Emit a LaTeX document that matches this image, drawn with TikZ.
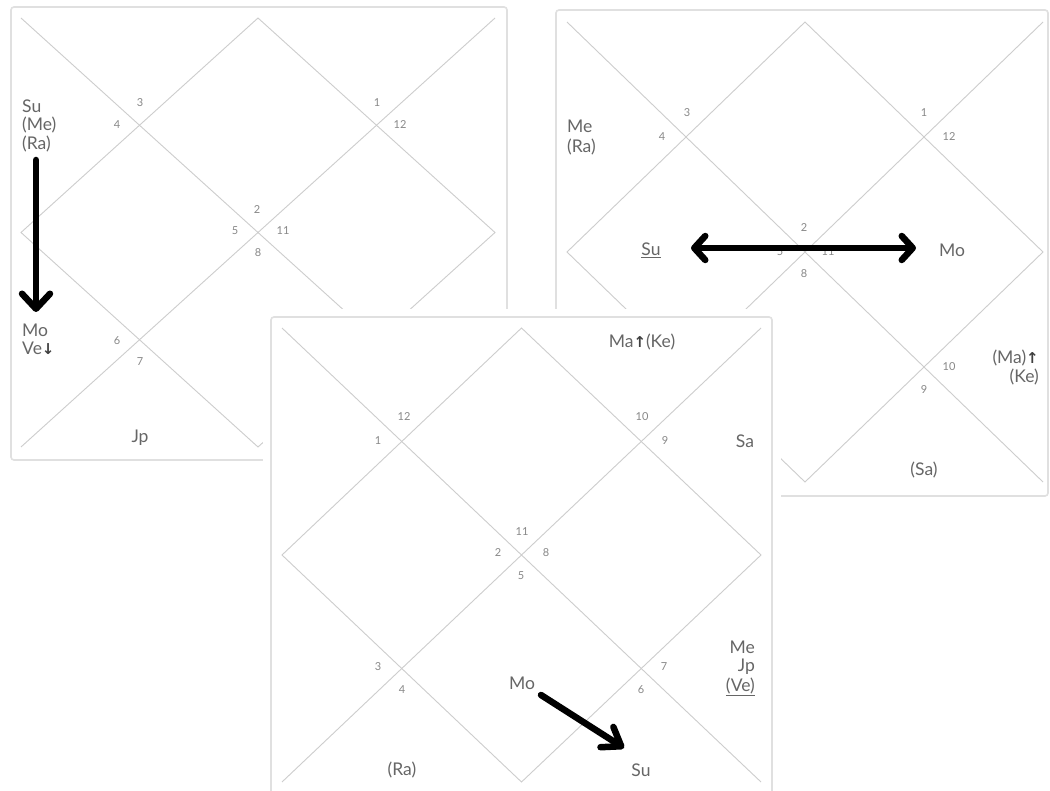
\documentclass[tikz,border=0pt]{standalone}
\usepackage{fontspec}
\setmainfont{Lato}
\newfontfamily\symfont{DejaVu Sans}
\usetikzlibrary{arrows.meta}
\definecolor{chartcol}{HTML}{CDCDCD}
\definecolor{framecol}{HTML}{E0E0E0}
\definecolor{planetcol}{HTML}{666666}
\definecolor{numcol}{HTML}{888888}
\newcommand{\uparr}{{\symfont\bfseries\fontsize{15}{15}\selectfont\color{black!75}↑}}
\newcommand{\downarr}{{\symfont\bfseries\fontsize{15}{15}\selectfont\color{black!75}↓}}
\begin{document}
\begin{tikzpicture}[x=1pt,y=-1pt,
  chartline/.style={draw=chartcol, line width=0.9pt},
  card/.style={draw=framecol, line width=1.6pt, rounded corners=3pt, fill=white},
  planet/.style={text=planetcol, font=\fontsize{17.5}{20}\selectfont, inner sep=0pt},
  num/.style={text=numcol, font=\fontsize{11}{11}\selectfont, inner sep=0pt},
  bigarrow/.style={draw=black, line width=6.5pt, line cap=round}
]
\useasboundingbox (0,0) rectangle (1050,791);
\fill[white] (0,0) rectangle (1050,791);

% ---------------- Chart 1 (top left) ----------------
\draw[card] (11,7) rectangle (507,460);
\draw[chartline] (21,18) -- (495,447) (21,447) -- (495,18);
\draw[chartline] (258,18) -- (495,232.5) -- (258,447) -- (21,232.5) -- cycle;
\node[num] (c1n3) at (140,103) {3};
\node[num] (c1n4) at (117,125) {4};
\node[num] (c1n1) at (377,103) {1};
\node[num] (c1n12) at (400,125) {12};
\node[num] (c1n2) at (257,210) {2};
\node[num] (c1n5) at (235,231) {5};
\node[num] (c1n11) at (283,231) {11};
\node[num] (c1n8) at (258,253) {8};
\node[num] (c1n6) at (117,341) {6};
\node[num] (c1n7) at (140,362) {7};
\node[planet, anchor=west] (c1su) at (22,106) {Su};
\node[planet, anchor=west] (c1me) at (22,125) {(Me)};
\node[planet, anchor=west] (c1ra) at (22,144) {(Ra)};
\node[planet, anchor=west] (c1mo) at (22,330) {Mo};
\node[planet, anchor=west] (c1ve) at (22,348) {Ve\downarr};
\node[planet] (c1jp) at (140,438) {Jp};
\coordinate (c1as) at (36,160);
\coordinate (c1ae) at (36,312);
\draw[bigarrow, -{Straight Barb[round,length=15pt,width=28pt]}] (c1as) -- (c1ae);

% ---------------- Chart 2 (top right) ----------------
\draw[card] (556,10) rectangle (1048,496);
\draw[chartline] (567,22) -- (1043,482) (567,482) -- (1043,22);
\draw[chartline] (805,22) -- (1043,252) -- (805,482) -- (567,252) -- cycle;
\node[num] (c2n3) at (687,113) {3};
\node[num] (c2n4) at (662,137) {4};
\node[num] (c2n1) at (924,113) {1};
\node[num] (c2n12) at (949,137) {12};
\node[num] (c2n2) at (804,228) {2};
\node[num] (c2n5) at (780,252) {5};
\node[num] (c2n11) at (828,252) {11};
\node[num] (c2n8) at (804,274) {8};
\node[num] (c2n10) at (949,367) {10};
\node[num] (c2n9) at (924,390) {9};
\node[planet, anchor=west] (c2me) at (567,126) {Me};
\node[planet, anchor=west] (c2ra) at (567,147) {(Ra)};
\node[planet] (c2su) at (651,250) {\underline{Su}};
\node[planet] (c2mo) at (952,250) {Mo};
\node[planet, anchor=east] (c2ma) at (1039,358) {(Ma)\uparr};
\node[planet, anchor=east] (c2ke) at (1039,377) {(Ke)};
\node[planet] (c2sa) at (924,470) {(Sa)};
\coordinate (c2al) at (691,248);
\coordinate (c2ar) at (916,248);
\draw[bigarrow, {Straight Barb[round,length=11pt,width=24pt]}-{Straight Barb[round,length=11pt,width=24pt]}] (c2al) -- (c2ar);

% ---------------- Chart 3 (bottom, in front) ----------------
\fill[white] (263,309) rectangle (781,795);
\draw[card] (271,317) rectangle (772,800);
\draw[chartline] (282,328) -- (761,782) (282,782) -- (761,328);
\draw[chartline] (521.5,328) -- (761,555) -- (521.5,782) -- (282,555) -- cycle;
\node[num] (c3n12) at (404,417) {12};
\node[num] (c3n1) at (378,441) {1};
\node[num] (c3n10) at (642,417) {10};
\node[num] (c3n9) at (665,441) {9};
\node[num] (c3n11) at (522,532) {11};
\node[num] (c3n2) at (498,553) {2};
\node[num] (c3n8) at (546,553) {8};
\node[num] (c3n5) at (521,576) {5};
\node[num] (c3n3) at (378,667) {3};
\node[num] (c3n4) at (402,690) {4};
\node[num] (c3n7) at (664,667) {7};
\node[num] (c3n6) at (641,690) {6};
\node[planet] (c3ma) at (642,342) {Ma\uparr(Ke)};
\node[planet] (c3sa) at (745,441) {Sa};
\node[planet, anchor=east] (c3me) at (755,647) {Me};
\node[planet, anchor=east] (c3jp) at (755,667) {Jp};
\node[planet, anchor=east] (c3ve) at (755,687) {\underline{(Ve)}};
\node[planet] (c3mo) at (522,683) {Mo};
\node[planet] (c3ra) at (402,770) {(Ra)};
\node[planet] (c3su) at (641,770) {Su};
\coordinate (c3as) at (541,695);
\coordinate (c3ae) at (624,748);
\draw[bigarrow, -{Straight Barb[round,length=17pt,width=24pt]}] (c3as) -- (c3ae);
\end{tikzpicture}
\end{document}
